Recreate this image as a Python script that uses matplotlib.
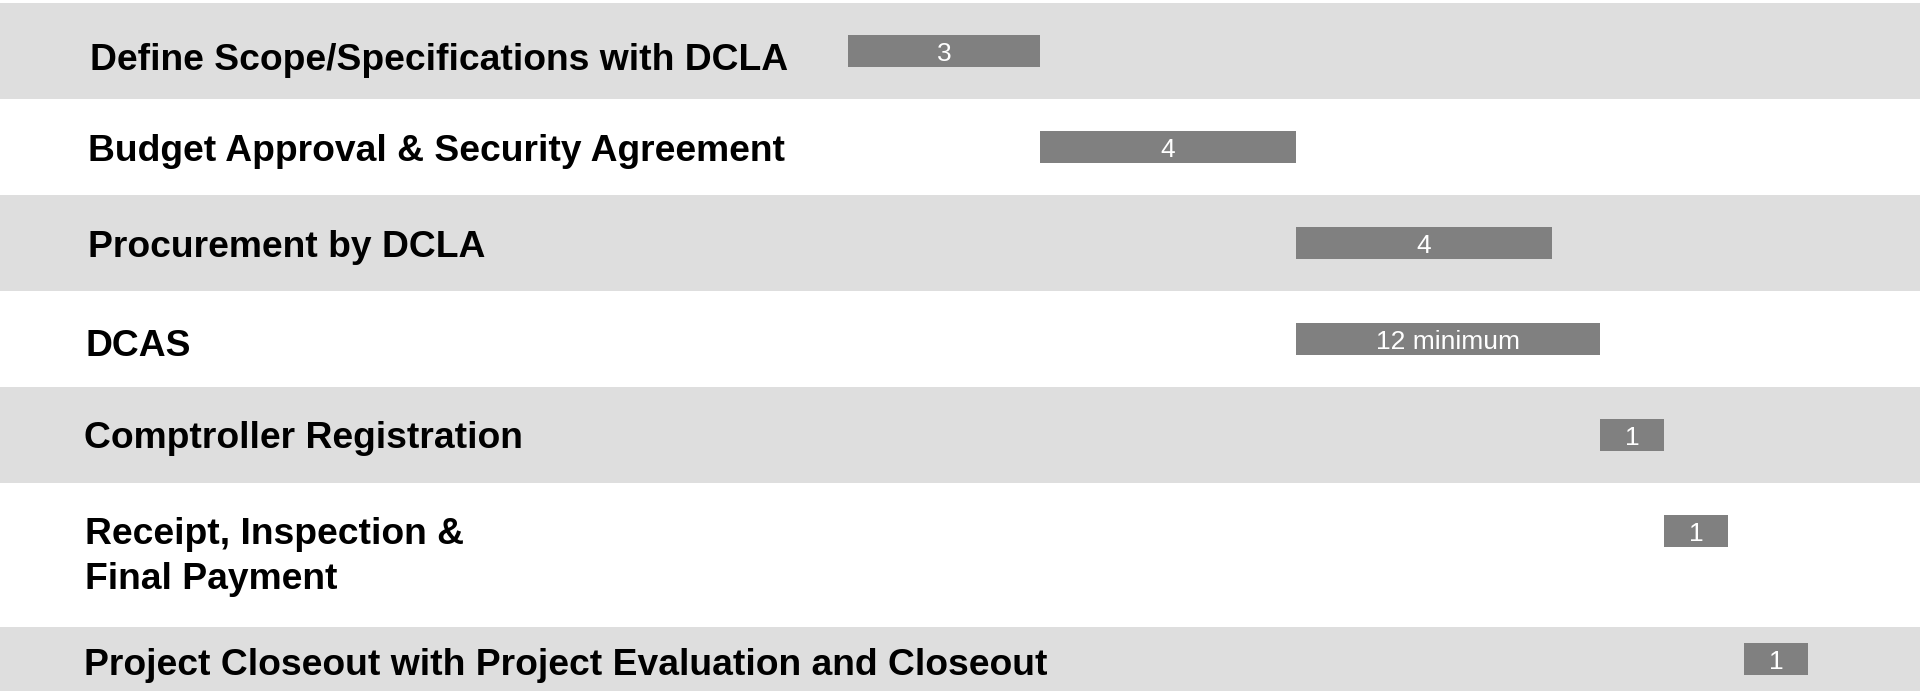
import matplotlib.pyplot as plt
from matplotlib.transforms import blended_transform_factory

# 작업 목록 / 일정 (단위: 개월)
tasks = ['Define Scope/Specifications with DCLA',
         'Budget Approval & Security Agreement',
         'Procurement by DCLA',
         'DCAS',
         'Comptroller Registration',
         'Receipt, Inspection &\nFinal Payment',
         'Project Closeout with Project Evaluation and Closeout']
starts = [0, 3, 7, 7, 11.75, 12.75, 14]
durations = [3, 4, 4, 4.75, 1, 1, 1]
bar_labels = ['3', '4', '4', '12 minimum', '1', '1', '1']

# 레이아웃 (픽셀 단위)
W, H = 1920, 691
row_heights = [96, 96, 96, 96, 96, 144, 64]
px_per_unit = 64
origin_px = 848
label_x = [89.5, 88.5, 88.5, 85, 83.5, 85, 83.5]  # 텍스트 왼쪽 위치
label_dy = [19, 14, 14, 17, 13, 58, 16]  # 텍스트 baseline 보정 (여러 줄은 마지막 줄 기준)

plt.rcParams['font.family'] = ['Liberation Sans', 'DejaVu Sans']

fig = plt.figure(figsize=(W / 100, H / 100), dpi=100)
ax = fig.add_axes([0, 0, 1, 1])
ax.set_xlim(-origin_px / px_per_unit, (W - origin_px) / px_per_unit)
ax.set_ylim(H, 0)
ax.axis('off')

tops = []
y = 3
for h in row_heights:
    tops.append(y)
    y += h
centers = [t + min(48, h / 2) for t, h in zip(tops, row_heights)]

# 줄무늬 배경
for i, (t, h) in enumerate(zip(tops, row_heights)):
    if i % 2 == 0:
        ax.axhspan(t, t + h, color='#dedede', lw=0, zorder=0)

ax.barh(centers, durations, left=starts, height=32, color='#808080', zorder=2)

trans = blended_transform_factory(ax.transAxes, ax.transData)
for i, name in enumerate(tasks):
    ax.text(label_x[i] / W, centers[i] + label_dy[i], name, transform=trans,
            fontsize=26.8, fontweight='bold', color='black',
            ha='left', va='baseline', linespacing=1.36)
    ax.text(starts[i] + durations[i] / 2, centers[i] + 10, bar_labels[i],
            fontsize=19, color='white', ha='center', va='baseline', zorder=3)

fig.savefig('out.png', dpi=100)
